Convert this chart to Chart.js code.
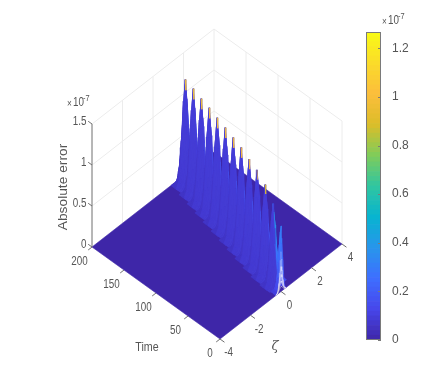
<!DOCTYPE html>
<html>
<head>
<meta charset="utf-8">
<title>Absolute error</title>
<script src="https://cdn.jsdelivr.net/npm/chart.js@4"></script>
<style>
  html, body { margin: 0; background: #fff; }
  #wrap { position: relative; width: 434px; height: 379px; overflow: hidden; }
  canvas { position: absolute; top: 0; }
  #surface { left: 0; }
  #colorbar { left: 366px; }
</style>
</head>
<body>
<div id="wrap">
  <canvas id="surface" width="434" height="379"></canvas>
  <canvas id="colorbar" width="68" height="379"></canvas>
</div>
<script>
// values, z in units of 1e-7
const peakTimes = [0, 16, 32, 48, 64, 80, 96, 112, 128, 144, 160, 176, 192];
const peakZetas = [0, 0.15, 0.3, 0.44, 0.59, 0.74, 0.89, 1.04, 1.18, 1.33, 1.48, 1.63, 1.78];
const peakHeights = [0.8, 0.96, 1.08, 1.15, 1.17, 1.2, 1.21, 1.22, 1.23, 1.24, 1.24, 1.25, 1.25];
const peakSpreads = [0.55, 0.9, 1, 1, 1, 1, 1, 1, 1, 1, 1, 1, 1];

// cross sections of one peak, as fractions of its height
const zetaOffsets = [-0.6, -0.42, -0.3, -0.2, -0.1, 0, 0.1, 0.2, 0.3, 0.42, 0.6];
const zetaShape = [0, 0.06, 0.25, 0.5, 0.8, 1, 0.8, 0.5, 0.25, 0.06, 0];
const timeOffsets = [8, 6, 4, 3, 2, 1, 0, -1, -2, -3, -4, -6, -8];
const timeShape = [0, 0.1, 0.33, 0.5, 0.7, 0.9, 1, 0.9, 0.7, 0.5, 0.33, 0.1, 0];

const zetaTicks = [-4, -2, 0, 2, 4];
const timeTicks = [0, 50, 100, 150, 200];
const errorTicks = [0, 0.5, 1, 1.5];
const colorbarTicks = [0, 0.2, 0.4, 0.6, 0.8, 1, 1.2];
const colorMax = 1.267;

// parula
const stops = [
  [0, 62, 38, 168], [0.1, 71, 71, 235], [0.2, 62, 111, 255], [0.3, 39, 150, 235],
  [0.4, 8, 180, 208], [0.5, 49, 198, 159], [0.6, 129, 204, 89], [0.7, 220, 189, 41],
  [0.8, 252, 190, 60], [1, 249, 251, 21]
];

function colorAt(value) {
  const v = Math.min(Math.max(value / colorMax, 0), 1);
  let i = 0;
  while (i < stops.length - 2 && v > stops[i + 1][0]) i++;
  const a = stops[i], b = stops[i + 1];
  const k = (v - a[0]) / (b[0] - a[0]);
  const mix = (n) => Math.round(a[n] + (b[n] - a[n]) * k);
  return `rgb(${mix(1)},${mix(2)},${mix(3)})`;
}

// the view of the box on the page
function project(zeta, time, z) {
  const u = (zeta + 4) / 8;
  const v = time / 200;
  return {
    x: 220 + u * 122 - v * 128,
    y: 339 - u * 95 - v * 92 - z / 1.5 * 123
  };
}

const GRID = '#ececec';
const AXIS = '#6e6e6e';
const INK = '#555555';

function line(points, color, width) {
  return {
    data: points, borderColor: color, borderWidth: width || 1,
    pointRadius: 0, fill: false, tension: 0
  };
}

function shape(points, color) {
  return {
    data: points.concat([points[0]]), borderColor: color, backgroundColor: color,
    borderWidth: 0.6, pointRadius: 0, fill: 'shape', tension: 0
  };
}

function facetValue(peak, f, tOff, zOff) {
  if (peak === 0) return tOff <= 0 && zOff >= 0 ? 0.14 + 0.5 * f * f : 0.1 + 0.2 * f;
  if (peak === 1 && tOff < 0 && zOff > 0) return 0.15 + 0.25 * f;
  if (tOff < -1 && zOff > 0.1) return 0.15 + 0.04 * f;
  if (tOff < 0) return 0.08 + 0.01 * f;
  return 0.06 + 0.02 * f;
}

const layers = [];

// walls
errorTicks.slice(1).forEach((z) => {
  layers.push(line([project(-4, 200, z), project(4, 200, z), project(4, 0, z)], GRID));
});
zetaTicks.slice(1).forEach((zeta) => {
  layers.push(line([project(zeta, 200, 0), project(zeta, 200, 1.5)], GRID));
});
timeTicks.slice(0, 4).forEach((time) => {
  layers.push(line([project(4, time, 0), project(4, time, 1.5)], GRID));
});

// floor of the surface
layers.push(shape([project(-4, 0, 0), project(4, 0, 0), project(4, 200, 0), project(-4, 200, 0)], colorAt(0)));

// peaks, back to front
for (let p = peakTimes.length - 1; p >= 0; p--) {
  const h = peakHeights[p];
  const w = peakSpreads[p];
  for (let a = 0; a < timeOffsets.length - 1; a++) {
    const t0 = peakTimes[p] + timeOffsets[a];
    const t1 = peakTimes[p] + timeOffsets[a + 1];
    if (t1 < 0) continue;
    for (let b = zetaOffsets.length - 2; b >= 0; b--) {
      const zA = peakZetas[p] + zetaOffsets[b] * w;
      const zB = peakZetas[p] + zetaOffsets[b + 1] * w;
      const q = [
        h * timeShape[a] * zetaShape[b], h * timeShape[a] * zetaShape[b + 1],
        h * timeShape[a + 1] * zetaShape[b + 1], h * timeShape[a + 1] * zetaShape[b]
      ];
      const top = Math.max(q[0], q[1], q[2], q[3]);
      const tOff = timeOffsets[a] + timeOffsets[a + 1];
      const zOff = zetaOffsets[b] + zetaOffsets[b + 1];
      const color = colorAt(facetValue(p, top / h, tOff, zOff));
      layers.push(shape([
        project(zA, t0, q[0]), project(zB, t0, q[1]),
        project(zB, t1, q[2]), project(zA, t1, q[3])
      ], color));
    }
  }
  // thin warm edge at the very tip
  if (p > 1) {
    layers.push(line([
      project(peakZetas[p], peakTimes[p], h),
      project(peakZetas[p], peakTimes[p] - 1, h * timeShape[7])
    ], colorAt(h * 0.85), 0.7));
  }
}

// white mesh showing through at the foot of the nearest peak
const meshLevels = [0.08, 0.16, 0.26, 0.38];
meshLevels.forEach((level) => {
  layers.push(line(zetaOffsets.map((off, i) => {
    return project(peakZetas[0] + off * peakSpreads[0], 0, peakHeights[0] * zetaShape[i] * level);
  }), 'rgba(255,255,255,0.75)', 0.5));
});
zetaOffsets.slice(1, 10).forEach((off, n) => {
  layers.push(line(meshLevels.map((level) => {
    return project(peakZetas[0] + off * peakSpreads[0], 0, peakHeights[0] * zetaShape[n + 1] * level * 1.6);
  }), 'rgba(255,255,255,0.7)', 0.5));
});

// axis lines and tick marks
layers.push(line([project(-4, 200, 0), project(-4, 200, 1.5)], AXIS));
errorTicks.forEach((z) => {
  layers.push(line([project(-4, 206, z), project(-4, 200, z)], AXIS));
});
timeTicks.forEach((time) => {
  layers.push(line([project(-4.25, time, 0), project(-4, time, 0)], AXIS));
});
zetaTicks.forEach((zeta) => {
  layers.push(line([project(zeta, -7, 0), project(zeta, 0, 0)], AXIS));
});

function drawText(ctx, text, x, y, font, opts) {
  const o = opts || {};
  ctx.save();
  ctx.fillStyle = INK;
  ctx.font = font;
  ctx.textAlign = o.align || 'center';
  ctx.textBaseline = o.baseline || 'middle';
  ctx.translate(x, y);
  if (o.rotate) ctx.rotate(o.rotate);
  ctx.scale(o.sx || 0.82, o.sy || 1);
  ctx.fillText(text, 0, 0);
  ctx.restore();
}

const FONT = 'Liberation Sans, Arial, sans-serif';

function drawExponent(ctx, x, y) {
  drawText(ctx, '×', x, y + 1, `10px ${FONT}`, { align: 'left' });
  drawText(ctx, '10', x + 6, y, `12px ${FONT}`, { align: 'left' });
  drawText(ctx, '-7', x + 16, y - 4, `9px ${FONT}`, { align: 'left' });
}

const axisText = {
  id: 'axisText',
  afterDraw(chart) {
    const ctx = chart.ctx;
    const font = `12px ${FONT}`;
    zetaTicks.forEach((zeta) => {
      const p = project(zeta, 0, 0);
      drawText(ctx, String(zeta), p.x + 8.5, p.y + 14, font);
    });
    timeTicks.forEach((time) => {
      const p = project(-4, time, 0);
      drawText(ctx, String(time), p.x - (time === 0 ? 10 : 12.5), p.y + 14.5, font);
    });
    errorTicks.forEach((z) => {
      const p = project(-4, 200, z);
      drawText(ctx, String(z), p.x - 5.5, p.y - 2, font, { align: 'right' });
    });
    drawExponent(ctx, 67, 103);
    drawText(ctx, 'Absolute error', 64, 187, `13.5px ${FONT}`, { rotate: -Math.PI / 2, sx: 1.02, sy: 0.88 });
    drawText(ctx, 'Time', 147, 347, `13px ${FONT}`);
    drawText(ctx, 'ζ', 275, 347, 'italic 13px DejaVu Serif, serif', { sx: 1 });
  }
};

new Chart(document.getElementById('surface'), {
  type: 'line',
  data: { datasets: layers.reverse() }, // first dataset is painted last
  plugins: [axisText],
  options: {
    responsive: false,
    animation: false,
    events: [],
    layout: { padding: 0 },
    plugins: { legend: { display: false }, tooltip: { enabled: false } },
    scales: {
      x: { type: 'linear', min: 0, max: 434, display: false },
      y: { type: 'linear', min: 0, max: 379, reverse: true, display: false }
    }
  }
});

// colorbar, one stacked band per colormap level
const levelCount = 64;
const bands = [];
for (let i = 0; i < levelCount; i++) {
  bands.push({
    data: [colorMax / levelCount],
    backgroundColor: colorAt((i + 0.5) / levelCount * colorMax),
    borderWidth: 0,
    barPercentage: 1,
    categoryPercentage: 1
  });
}

const colorbarFrame = {
  id: 'colorbarFrame',
  afterDraw(chart) {
    const ctx = chart.ctx;
    const area = chart.chartArea;
    const scale = chart.scales.y;
    ctx.save();
    ctx.strokeStyle = '#7a7a7a';
    ctx.lineWidth = 1;
    ctx.strokeRect(area.left + 0.5, area.top + 0.5, area.right - area.left - 1, area.bottom - area.top - 1);
    colorbarTicks.forEach((v) => {
      const y = Math.round(scale.getPixelForValue(v)) + 0.5;
      ctx.beginPath();
      ctx.moveTo(area.right - 3, y);
      ctx.lineTo(area.right, y);
      ctx.stroke();
    });
    ctx.restore();
    drawExponent(ctx, 16, 21);
  }
};

new Chart(document.getElementById('colorbar'), {
  type: 'bar',
  data: { labels: [''], datasets: bands },
  plugins: [colorbarFrame],
  options: {
    responsive: false,
    animation: false,
    events: [],
    layout: { padding: { top: 32, bottom: 39, left: 0, right: 0 } },
    plugins: { legend: { display: false }, tooltip: { enabled: false } },
    scales: {
      x: { stacked: true, display: false },
      y: {
        stacked: true,
        position: 'right',
        min: 0,
        max: colorMax,
        afterFit(scale) { scale.width = 53; },
        afterBuildTicks(scale) { scale.ticks = colorbarTicks.map((value) => ({ value })); },
        border: { display: false },
        grid: { display: false },
        ticks: {
          padding: 3,
          color: INK,
          font: { family: 'Liberation Sans Narrow, Liberation Sans, sans-serif', size: 12 },
          callback: (v) => String(v)
        }
      }
    }
  }
});
</script>
</body>
</html>
